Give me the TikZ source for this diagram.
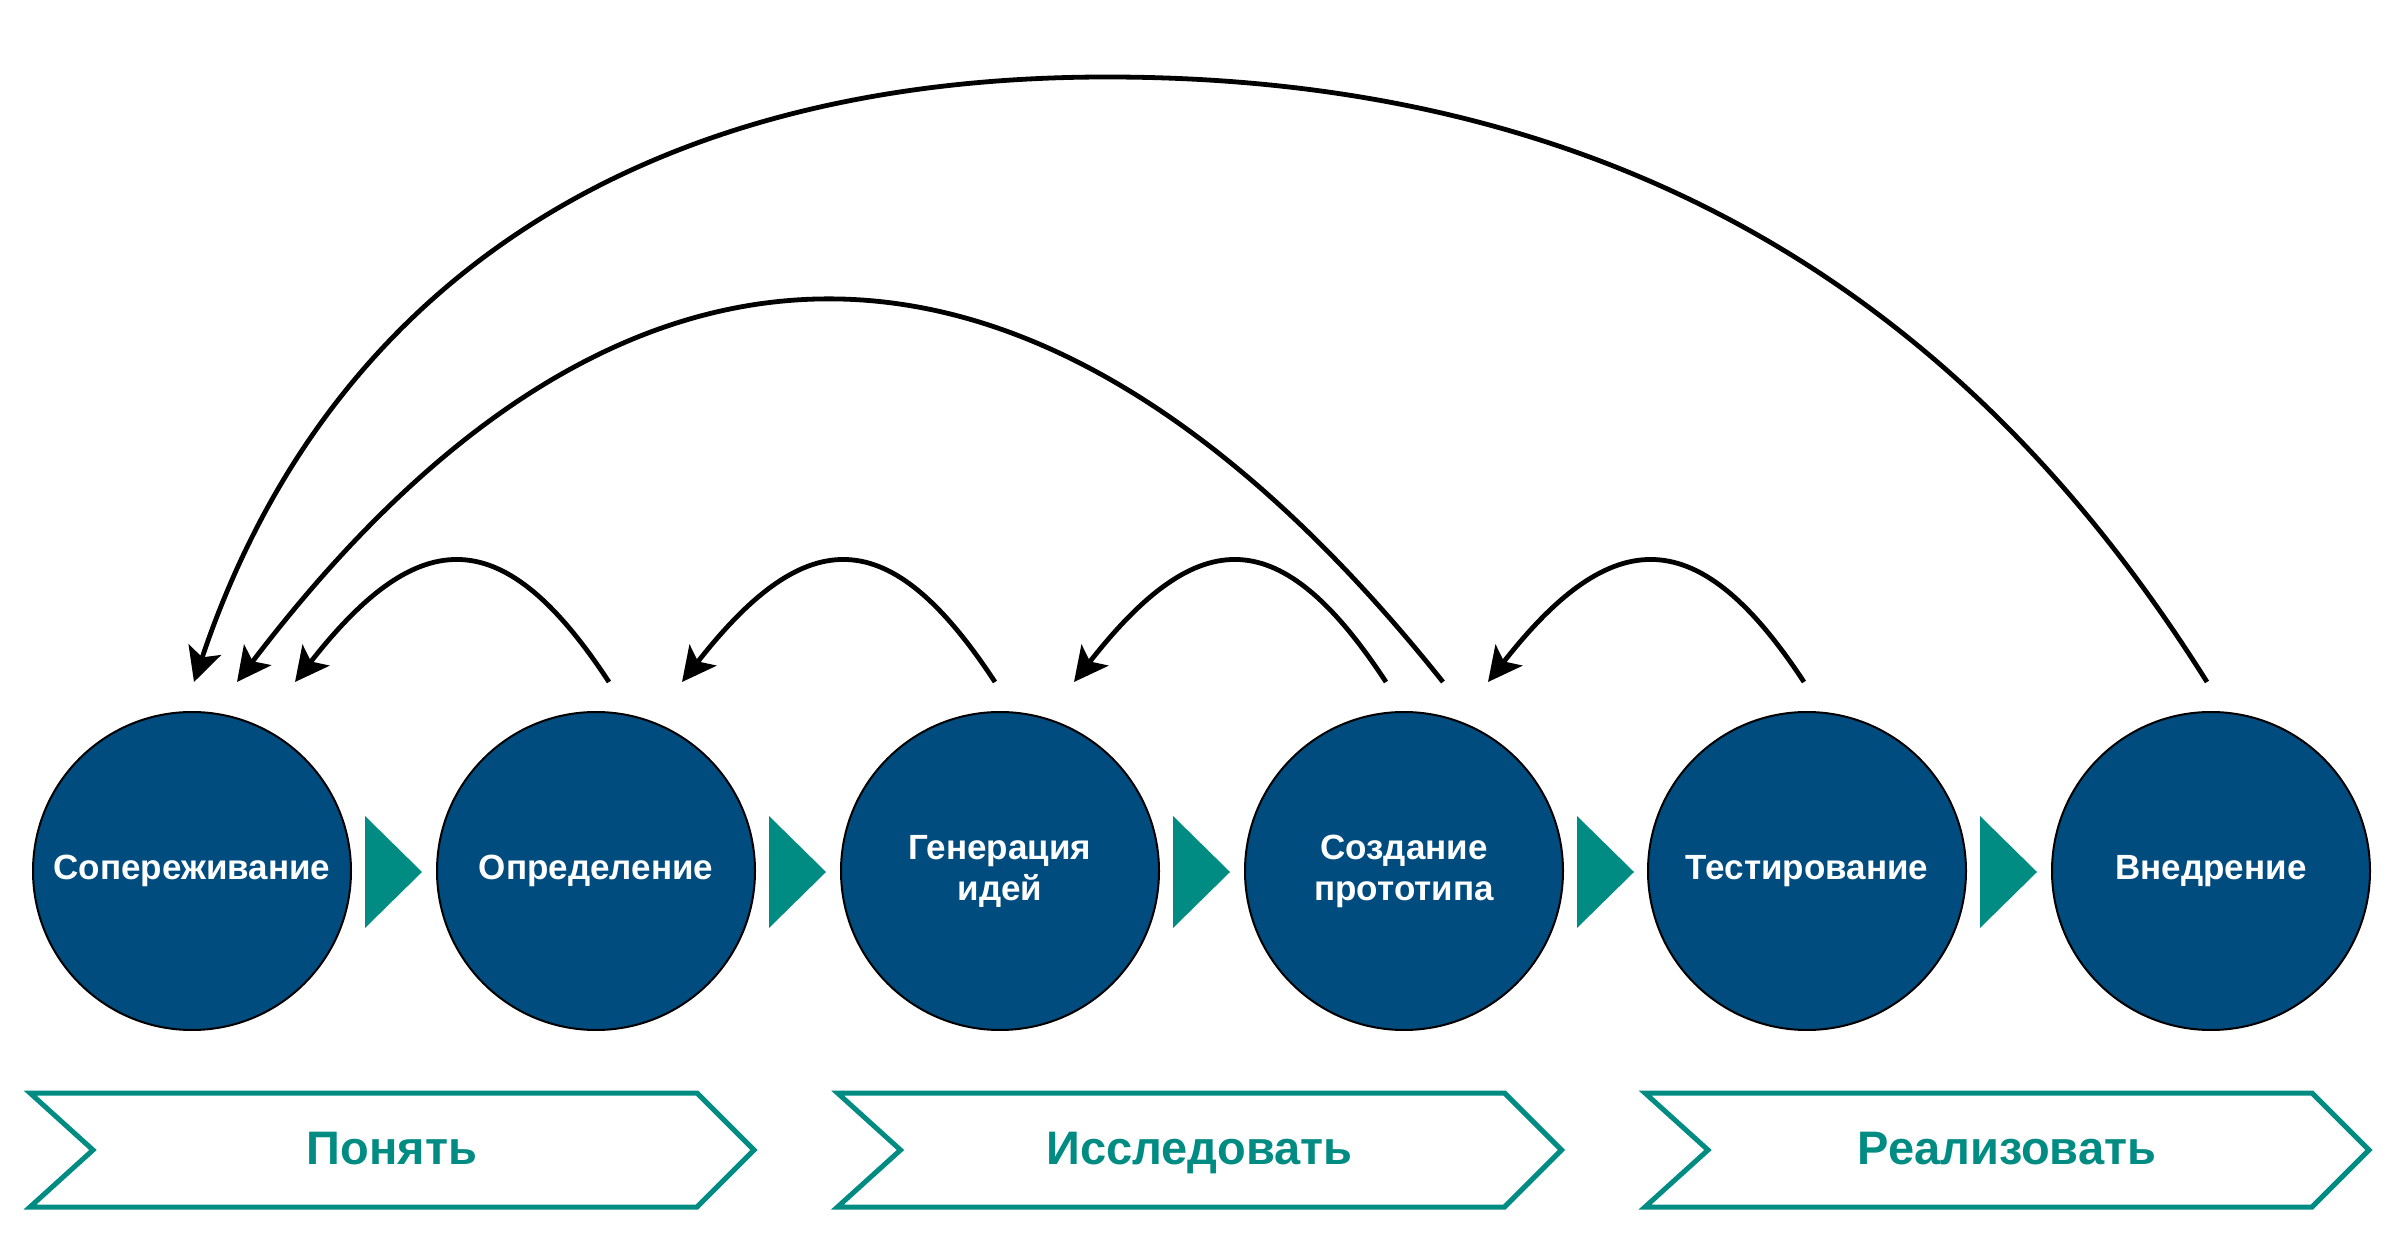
\documentclass[tikz,border=0pt]{standalone}
\usepackage{fontspec}
\setmainfont{Liberation Sans}
\usetikzlibrary{arrows.meta}
\definecolor{navy}{HTML}{004C7F}
\definecolor{tealc}{HTML}{008C82}
\begin{document}
\begin{tikzpicture}[x=0.5pt,y=-0.5pt,
  stage/.style={circle, draw=black, line width=1pt, fill=navy, minimum size=159pt,
    inner sep=0pt, text=white, font=\bfseries\fontsize{17.5}{20.5}\selectfont, align=center},
  tri/.style={fill=tealc},
  phase/.style={draw=tealc, line width=2.5pt, fill=white},
  phaselabel/.style={text=tealc, font=\bfseries\fontsize{23.5}{28}\selectfont, anchor=base},
  back/.style={line width=2.4pt, -{Stealth[length=17pt,width=17pt,inset=4pt]}}
]
\useasboundingbox (0,0) rectangle (2400,1240);
\fill[white] (0,0) rectangle (2400,1240);

% stages
\node[stage] (c1) at (192,871) {Сопереживание};
\node[stage] (c2) at (596,871) {Определение};
\node[stage] (c3) at (1000,871) {Генерация\\идей};
\node[stage] (c4) at (1404,871) {Создание\\прототипа};
\node[stage] (c5) at (1807,871) {Тестирование};
\node[stage] (c6) at (2211,871) {Внедрение};

% forward triangles
\foreach \x in {365,769,1173,1577,1980}{
  \fill[tri] (\x,816) -- (\x+57,872) -- (\x,928) -- cycle;
}

% phases
\foreach \dx/\name/\lab in {0/p1/Понять, 807.5/p2/Исследовать, 1615/p3/Реализовать}{
  \draw[phase] (30+\dx,1093) -- (697+\dx,1093) -- (754+\dx,1150) -- (697+\dx,1207)
     -- (30+\dx,1207) -- (93+\dx,1150) -- cycle;
  \node[phaselabel] (\name) at (392+\dx,1164) {\lab};
}

% feedback arrows
\coordinate (s21) at (609,682);  \coordinate (e21) at (295,682);
\coordinate (s32) at (995,682);  \coordinate (e32) at (682,682);
\coordinate (s43) at (1386,682); \coordinate (e43) at (1074,682);
\coordinate (s54) at (1804,682); \coordinate (e54) at (1488,682);
\coordinate (s41) at (1443,682); \coordinate (e41) at (237,682);
\coordinate (s61) at (2207,682); \coordinate (e61) at (194,682);

\draw[back] (s21) .. controls +(-105,-160) and +(125,-160) .. (e21);
\draw[back] (s32) .. controls +(-105,-160) and +(125,-160) .. (e32);
\draw[back] (s43) .. controls +(-105,-160) and +(125,-160) .. (e43);
\draw[back] (s54) .. controls +(-105,-160) and +(125,-160) .. (e54);
\draw[back] (s41) .. controls (1040,177) and (625,172) .. (e41);
\draw[back] (s61) .. controls (1994,343) and (1667,77) .. (1107,77)
                  .. controls (620,77) and (321,302) .. (e61);
\end{tikzpicture}
\end{document}
